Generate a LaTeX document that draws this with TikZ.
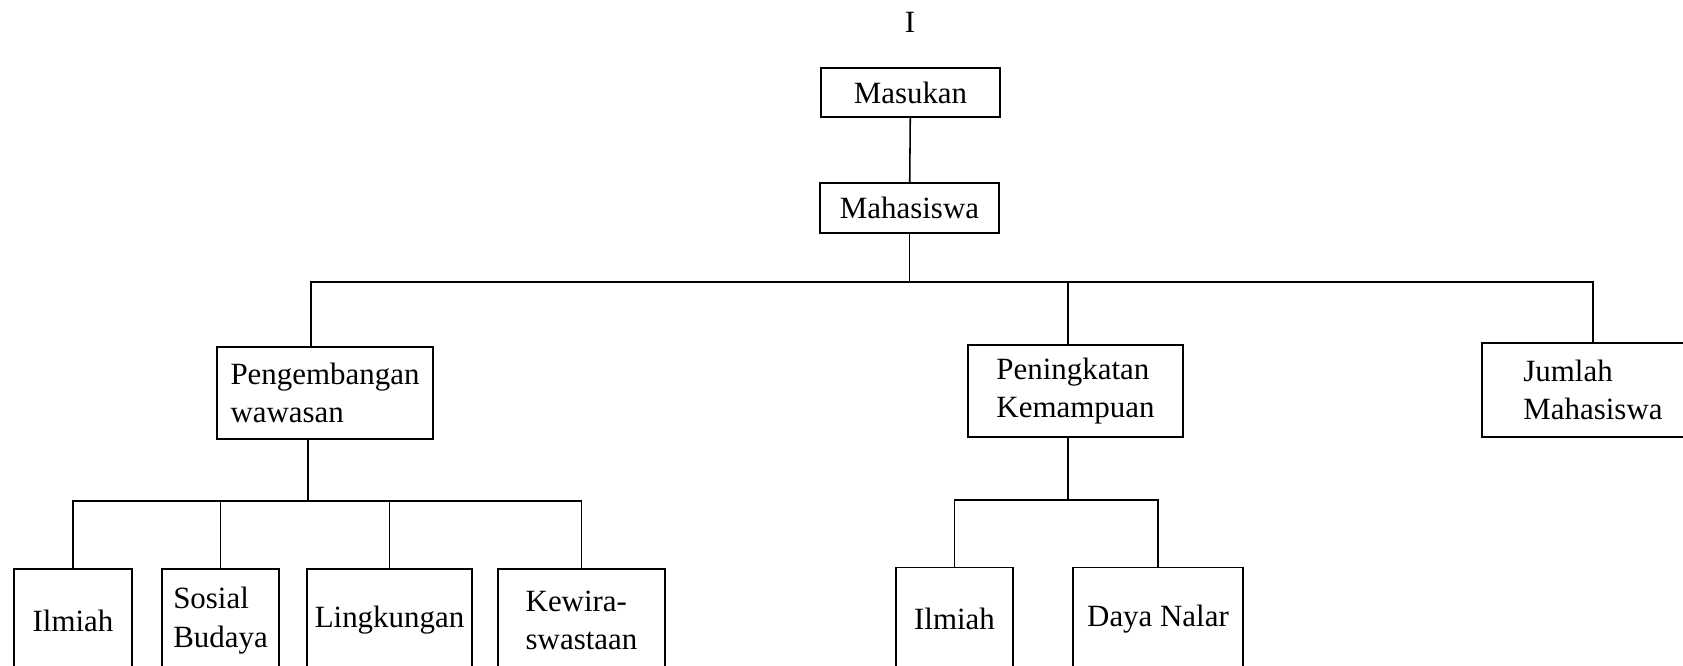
\documentclass[tikz,border=0pt]{standalone}
\usepackage{fontspec}
\setmainfont{Liberation Serif}

\tikzset{%
  kotak/.style={draw, line width=0.6pt, inner sep=0pt, font=\fontsize{12}{15}\selectfont, align=left},
  judul/.style={font=\fontsize{12}{15}\selectfont, inner sep=0pt},
  garis/.style={draw, line width=0.6pt},
}

\begin{document}
\begin{tikzpicture}[x=0.388pt, y=-0.388pt]
\clip (0,0) rectangle (1683,666);
\node[judul] (nomor) at (910,22) {I};
% atas
\node[kotak, minimum width=69.5pt, minimum height=19pt] (masukan) at (910.5,92.5) {Masukan};
\node[kotak, minimum width=69.5pt, minimum height=19.4pt] (mhs) at (909.5,208) {Mahasiswa};
% tengah
\node[kotak, minimum width=83.8pt, minimum height=35.7pt] (peng) at (325,393) {Pengembangan\\wawasan};
\node[kotak, minimum width=83.4pt, minimum height=35.7pt] (ning) at (1075.5,391) {Peningkatan\\Kemampuan};
\node[kotak, minimum width=86.1pt, minimum height=36.5pt] (jml) at (1593,390) {Jumlah\\Mahasiswa};
% bawah
\node[kotak, minimum width=45.8pt, minimum height=40pt] (ilmiah1) at (73,620.5) {Ilmiah};
\node[kotak, minimum width=45.4pt, minimum height=40pt] (sosial) at (220.5,620.5) {Sosial\\Budaya};
\node[kotak, minimum width=64pt, minimum height=40pt] (lingk) at (389.5,620.5) {Lingkungan};
\node[kotak, minimum width=64.8pt, minimum height=40pt] (kewira) at (581.5,620.5) {Kewira-\\swastaan};
\node[kotak, minimum width=45.4pt, minimum height=40pt] (ilmiah2) at (954.5,619) {Ilmiah};
\node[kotak, minimum width=66pt, minimum height=40pt] (daya) at (1158,619) {Daya Nalar};

\coordinate (bus1) at (311,282);
\coordinate (bus1 ning) at (1068,282);
\coordinate (bus2) at (308,501);
\coordinate (bus3) at (1068,500);

\draw[garis] (masukan) -- (mhs);
\draw[garis] (mhs) -- (mhs |- bus1);
\draw[garis] (bus1 |- peng.north) -- (bus1) -| (jml.north);
\draw[garis] (bus1 ning) -- (bus1 ning |- ning.north);

\draw[garis] (bus2 |- peng.south) -- (bus2);
\draw[garis] (ilmiah1.north) |- (kewira.north |- bus2) -- (kewira.north);
\draw[garis] (sosial) -- (sosial |- bus2);
\draw[garis] (lingk) -- (lingk |- bus2);

\draw[garis] (bus3 |- ning.south) -- (bus3);
\draw[garis] (ilmiah2.north) |- (daya.north |- bus3) -- (daya.north);
\end{tikzpicture}
\end{document}
